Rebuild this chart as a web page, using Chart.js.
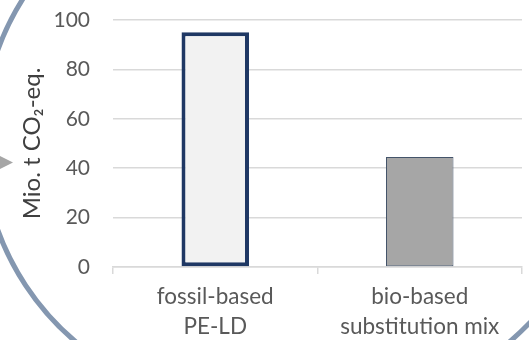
<!DOCTYPE html>
<html>
<head>
<meta charset="utf-8">
<script src="https://cdn.jsdelivr.net/npm/chart.js@4/dist/chart.umd.min.js"></script>
<style>
  html, body { margin: 0; padding: 0; background: #fff; }
  #wrap { width: 529px; height: 340px; position: relative; }
</style>
</head>
<body>
<div id="wrap"><canvas id="emissions"></canvas></div>
<script>
// Emissions per product route
const categories = [['fossil-based', 'PE-LD'], ['bio-based', 'substitution mix']];
const emissions = [95, 44.5];
const yTicks = [0, 20, 40, 60, 80, 100];

const fills = ['#F2F2F2', '#A6A6A6'];
const borders = ['#1F3864', '#44546A'];
const borderWidths = [4, 1];

// circular arrow ring behind the chart
const ringBackdrop = {
    id: 'ringBackdrop',
    beforeDraw(chart) {
        const ctx = chart.ctx;
        ctx.save();
        ctx.strokeStyle = '#8497B0';
        ctx.lineWidth = 5;
        ctx.beginPath();
        ctx.arc(246, 140, 264, 125 * Math.PI / 180, 215 * Math.PI / 180);
        ctx.stroke();
        ctx.beginPath();
        ctx.arc(300, 100, 320, 40 * Math.PI / 180, 52 * Math.PI / 180);
        ctx.stroke();
        // arrow head on the left edge
        ctx.fillStyle = '#A6A6A6';
        ctx.beginPath();
        ctx.moveTo(0, 156);
        ctx.lineTo(13, 162.5);
        ctx.lineTo(0, 169);
        ctx.closePath();
        ctx.fill();
        ctx.restore();
    }
};

new Chart(document.getElementById('emissions'), {
    type: 'bar',
    data: {
        labels: categories,
        datasets: [{
            data: emissions,
            backgroundColor: fills,
            borderColor: borders,
            borderWidth: borderWidths,
            borderSkipped: false,
            categoryPercentage: 1,
            barPercentage: 0.33
        }]
    },
    options: {
        responsive: true,
        maintainAspectRatio: false,
        animation: false,
        layout: { padding: { top: 20, right: 7, left: 0, bottom: 0 } },
        plugins: {
            legend: { display: false },
            tooltip: { enabled: false }
        },
        scales: {
            x: {
                grid: {
                    offset: true,
                    drawOnChartArea: false,
                    drawTicks: true,
                    tickLength: 7,
                    color: '#D9D9D9',
                    lineWidth: 1.5
                },
                border: { color: '#D9D9D9', width: 1.5 },
                ticks: {
                    color: '#595959',
                    padding: 8,
                    font: { family: 'Lato', size: 22.5, lineHeight: 1.33 }
                },
                afterFit(scale) { scale.height = 73; }
            },
            y: {
                min: 0,
                max: 100,
                afterBuildTicks(scale) { scale.ticks = yTicks.map(v => ({ value: v })); },
                // tick marks hidden, their length only spaces the labels off the plot
                grid: { color: '#D9D9D9', lineWidth: 1.5, drawTicks: true, tickLength: 20, tickColor: 'rgba(0,0,0,0)' },
                border: { display: false },
                ticks: {
                    color: '#595959',
                    padding: 3,
                    font: { family: 'Lato', size: 21 }
                },
                title: {
                    display: true,
                    text: 'Mio. t CO₂-eq.',
                    color: '#404040',
                    padding: { top: 18, bottom: 0 },
                    font: { family: 'Lato', size: 24 }
                },
                afterFit(scale) { scale.width = 113; }
            }
        }
    },
    plugins: [ringBackdrop]
});
</script>
</body>
</html>
